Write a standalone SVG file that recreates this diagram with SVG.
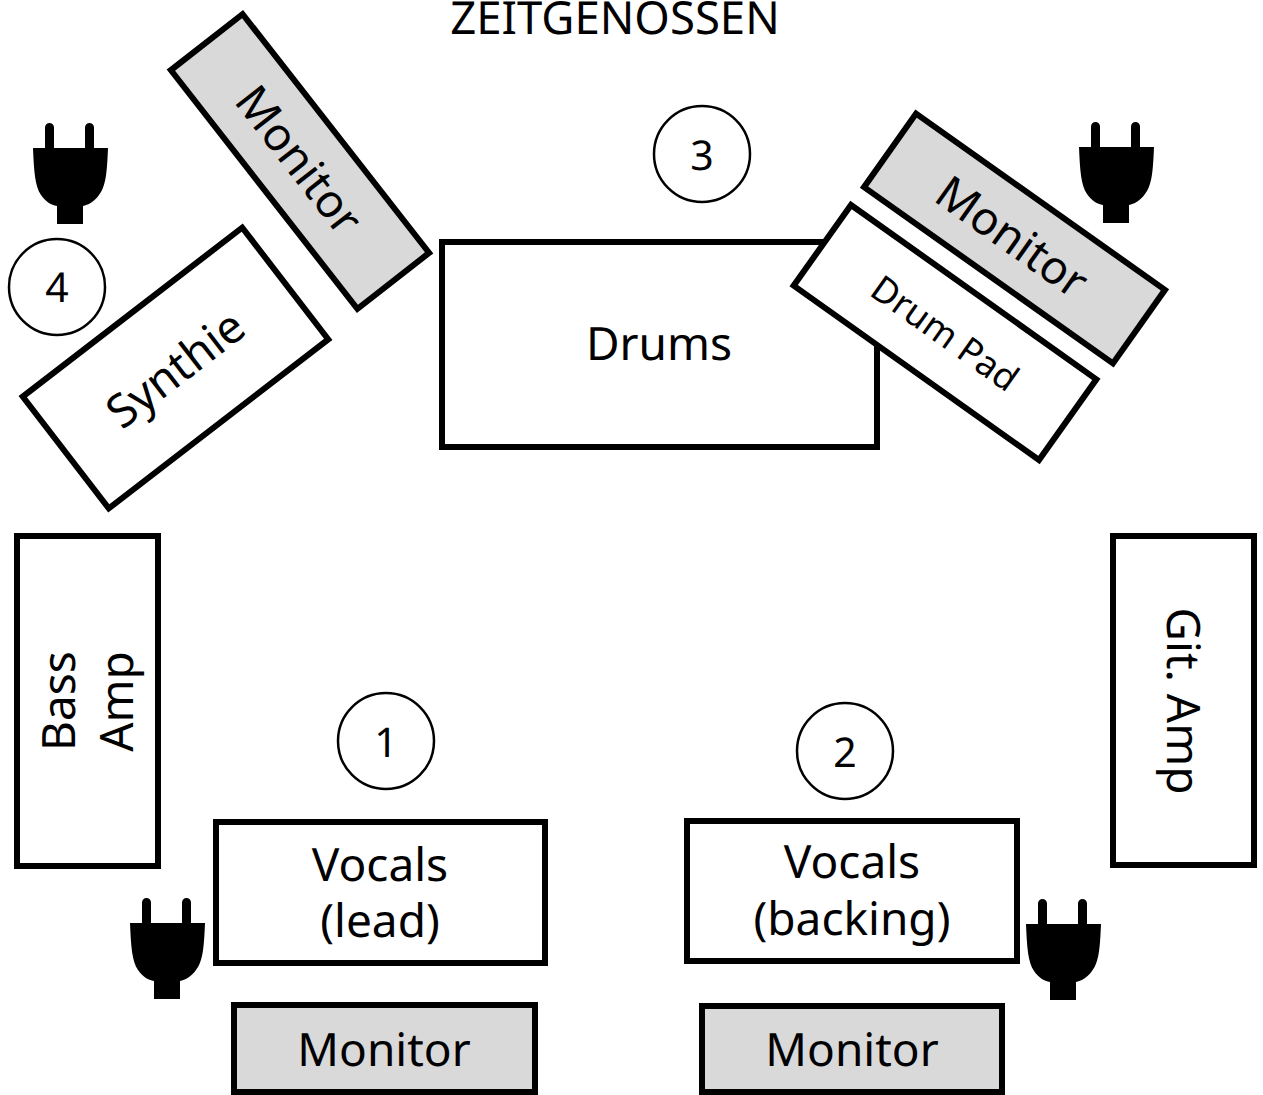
<svg xmlns="http://www.w3.org/2000/svg" width="1263" height="1095" viewBox="0 0 1263 1095">
<style>
text{font-family:"Noto Sans","Open Sans","DejaVu Sans",sans-serif;fill:#000;text-anchor:middle;font-size:46px;text-rendering:geometricPrecision}
.box{fill:#fff;stroke:#000;stroke-width:6}
.mon{fill:#d9d9d9;stroke:#000;stroke-width:6}
.num{fill:#fff;stroke:#000;stroke-width:2.500}
.n{font-size:41px}
</style>
<defs>
<g id="plug"><path d="M0 26H75C74 50 73 64 66 73C61 80 55 83 50 84V102H24V84C18 83 13 80 8 73C2 64 1 50 0 26Z"/><path d="M12 26V5.500a4.500 4.500 0 0 1 9 0V26ZM52 26V5.500a4.500 4.500 0 0 1 9 0V26Z"/></g>
</defs>
<rect width="1263" height="1095" fill="#fff"/>
<text id="title" x="615" y="34" style="font-size:45.500px">ZEITGENOSSEN</text>
<g id="connectors"></g>
<g id="drums"><rect class="box" x="442" y="242" width="435" height="205"/><text x="659" y="360">Drums</text></g>
<g id="monitor-left"><rect class="mon" x="-151.500" y="-45.500" width="303" height="91" transform="translate(300 161.500) rotate(52)"/><text transform="translate(299 160) rotate(52)" y="16">Monitor</text></g>
<g id="synthie"><rect class="box" x="-138.500" y="-70.500" width="277" height="141" transform="translate(175.500 368) rotate(-37.600)"/><text transform="translate(175.500 369) rotate(-37.600)" y="16">Synthie</text></g>
<g id="monitor-right"><rect class="mon" x="-152.500" y="-45" width="305" height="90" transform="translate(1014.500 238.500) rotate(35.300)"/><text transform="translate(1012 237) rotate(35.300)" y="16">Monitor</text></g>
<g id="drum-pad"><rect class="box" x="-150.500" y="-49.500" width="301" height="99" transform="translate(945 332.500) rotate(35.400)"/><text transform="translate(945 333) rotate(35.400)" y="13" style="font-size:36px">Drum Pad</text></g>
<g id="bass-amp"><rect class="box" x="17" y="536" width="141" height="330"/><text transform="translate(74.500 701) rotate(-90)">Bass</text><text transform="translate(132.500 701.500) rotate(-90)">Amp</text></g>
<g id="git-amp"><rect class="box" x="1113" y="536" width="141" height="329"/><text transform="translate(1166.500 701) rotate(90)">Git. Amp</text></g>
<g id="vocals-lead"><rect class="box" x="216" y="822" width="329" height="141"/><text x="380" y="881">Vocals</text><text x="380" y="937">(lead)</text></g>
<g id="vocals-backing"><rect class="box" x="687" y="821" width="330" height="140"/><text x="852" y="878">Vocals</text><text x="852" y="935">(backing)</text></g>
<g id="monitor-lead"><rect class="mon" x="234" y="1005" width="301" height="87"/><text x="384" y="1066">Monitor</text></g>
<g id="monitor-backing"><rect class="mon" x="702" y="1006" width="300" height="86"/><text x="852" y="1066">Monitor</text></g>
<g id="num-1"><circle class="num" cx="386" cy="741" r="48"/><text class="n" x="386" y="757">1</text></g>
<g id="num-2"><circle class="num" cx="845" cy="751" r="48"/><text class="n" x="845" y="767">2</text></g>
<g id="num-3"><circle class="num" cx="702" cy="154" r="48"/><text class="n" x="702" y="170">3</text></g>
<g id="num-4"><circle class="num" cx="57" cy="287" r="48"/><text class="n" x="57" y="302">4</text></g>
<use id="plug-1" href="#plug" x="33" y="122"/>
<use id="plug-2" href="#plug" x="1079" y="121"/>
<use id="plug-3" href="#plug" x="130" y="897"/>
<use id="plug-4" href="#plug" x="1026" y="898"/>
</svg>
